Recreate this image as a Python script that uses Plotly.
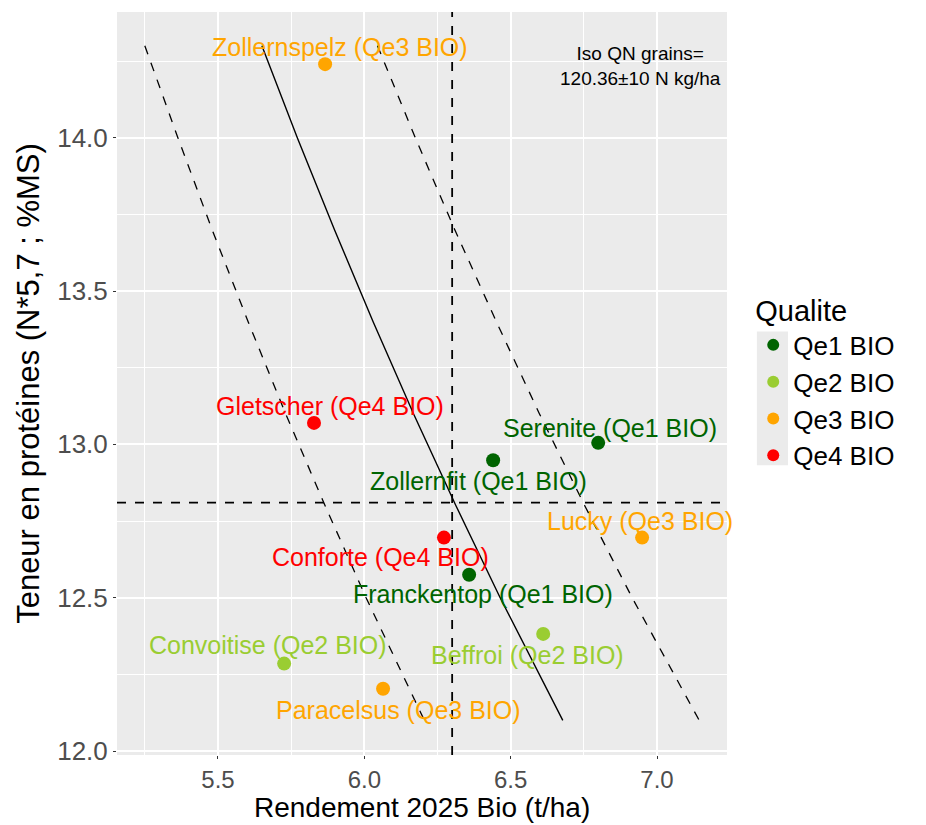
import plotly.graph_objects as go

# ---- data ----
varieties = ["Zollernspelz", "Gletscher", "Serenite", "Zollernfit", "Lucky",
             "Conforte", "Franckentop", "Beffroi", "Convoitise", "Paracelsus"]
qualite = ["Qe3 BIO", "Qe4 BIO", "Qe1 BIO", "Qe1 BIO", "Qe3 BIO",
           "Qe4 BIO", "Qe1 BIO", "Qe2 BIO", "Qe2 BIO", "Qe3 BIO"]
rendement = [5.866, 5.828, 6.799, 6.440, 6.949, 6.272, 6.358, 6.611, 5.726, 6.064]
proteine = [14.24, 13.07, 13.005, 12.948, 12.696, 12.696, 12.575, 12.382, 12.285, 12.203]

# label positions (ggrepel-style offsets)
label_x = [5.917, 5.883, 6.840, 6.389, 6.942, 6.054, 6.406, 6.559, 5.671, 6.115]
label_y = [14.297, 13.126, 13.054, 12.881, 12.750, 12.633, 12.512, 12.313, 12.346, 12.134]

# iso-QN curves (protein levels and matching yields)
iso_prot = [14.3, 14.0, 13.7, 13.4, 13.1, 12.8, 12.5, 12.1]
iso_mid = [5.650, 5.771, 5.898, 6.030, 6.168, 6.313, 6.464, 6.678]
iso_low = [5.250, 5.363, 5.480, 5.603, 5.731, 5.866, 6.006, 6.205]
iso_high = [6.045, 6.174, 6.309, 6.451, 6.598, 6.753, 6.915, 7.144]

mean_rendement = 6.30
mean_proteine = 12.81

x_ticks = [5.5, 6.0, 6.5, 7.0]
y_ticks = [12.0, 12.5, 13.0, 13.5, 14.0]

x_title = "Rendement 2025 Bio (t/ha)"
y_title = "Teneur en protéines (N*5,7 ; %MS)"
annot_text = "Iso QN grains=<br>120.36±10 N kg/ha"
annot_x, annot_y = 6.942, 14.235

colors = {"Qe1 BIO": "#006400", "Qe2 BIO": "#9ACD32",
          "Qe3 BIO": "#FFA500", "Qe4 BIO": "#FF0000"}

FONT = "Liberation Sans, Arial, sans-serif"

fig = go.Figure()

# iso curves
fig.add_trace(go.Scatter(x=iso_low, y=iso_prot, mode="lines", showlegend=False,
                         line=dict(color="black", width=1.3, dash="dash"), hoverinfo="skip"))
fig.add_trace(go.Scatter(x=iso_high, y=iso_prot, mode="lines", showlegend=False,
                         line=dict(color="black", width=1.3, dash="dash"), hoverinfo="skip"))
fig.add_trace(go.Scatter(x=iso_mid, y=iso_prot, mode="lines", showlegend=False,
                         line=dict(color="black", width=1.4), hoverinfo="skip"))

# mean lines
fig.add_vline(x=mean_rendement, line=dict(color="black", width=1.8, dash="dash"))
fig.add_hline(y=mean_proteine, line=dict(color="black", width=1.8, dash="dash"))

# points per quality
for q in ["Qe1 BIO", "Qe2 BIO", "Qe3 BIO", "Qe4 BIO"]:
    xs = [r for r, qq in zip(rendement, qualite) if qq == q]
    ys = [p for p, qq in zip(proteine, qualite) if qq == q]
    fig.add_trace(go.Scatter(x=xs, y=ys, mode="markers", name=q,
                             marker=dict(color=colors[q], size=14, line=dict(width=0))))

# labels
for v, q, lx, ly in zip(varieties, qualite, label_x, label_y):
    fig.add_annotation(x=lx, y=ly, text=f"{v} ({q})", showarrow=False,
                       xanchor="center", yanchor="middle",
                       font=dict(family=FONT, size=25, color=colors[q]))

fig.add_annotation(x=annot_x, y=annot_y, text=annot_text, showarrow=False,
                   xanchor="center", yanchor="middle", align="center",
                   font=dict(family=FONT, size=19, color="black"))

# x axis title (placed as paper annotation to keep it close to the tick labels)
fig.add_annotation(x=0.5, y=-0.0705, xref="paper", yref="paper", text=x_title,
                   showarrow=False, xanchor="center", yanchor="middle", borderpad=0,
                   font=dict(family=FONT, size=28, color="black"))

# legend key background (grey box like ggplot)
fig.add_shape(type="rect", xref="paper", yref="paper",
              x0=1.049, x1=1.100, y0=0.39, y1=0.57,
              fillcolor="#EBEBEB", line=dict(width=0), layer="below")

axis_common = dict(
    showgrid=True, gridcolor="white", gridwidth=1.5,
    zeroline=False, showline=False, automargin=False,
    ticks="outside", ticklen=3, tickcolor="#333333", tickwidth=1,
)

fig.update_layout(
    width=926, height=825,
    margin=dict(l=117, r=199, t=12, b=70, autoexpand=False),
    paper_bgcolor="white", plot_bgcolor="#EBEBEB",
    font=dict(family=FONT),
    xaxis=dict(range=[5.155, 7.239], tickvals=x_ticks,
               ticktext=[f"{v:.1f}" for v in x_ticks],
               tickfont=dict(family=FONT, size=24, color="#4D4D4D"),
               minor=dict(showgrid=True, gridcolor="white", gridwidth=0.7,
                          tickvals=[5.25, 5.75, 6.25, 6.75], ticks=""),
               **axis_common),
    yaxis=dict(range=[11.987, 14.41], tickvals=y_ticks,
               ticktext=[f"{v:.1f}" for v in y_ticks],
               tickfont=dict(family=FONT, size=26, color="#4D4D4D"),
               minor=dict(showgrid=True, gridcolor="white", gridwidth=0.7,
                          tickvals=[12.25, 12.75, 13.25, 13.75, 14.25], ticks=""),
               title=dict(text=y_title, standoff=8,
                          font=dict(family=FONT, size=31, color="black")),
               **axis_common),
    legend=dict(title=dict(text="Qualite", font=dict(family=FONT, size=29, color="black")),
                font=dict(family=FONT, size=26, color="black"),
                x=1.043, xanchor="left", y=0.503, yanchor="middle",
                bgcolor="rgba(0,0,0,0)", itemsizing="constant", tracegroupgap=0),
)

fig.write_html("out.html")
